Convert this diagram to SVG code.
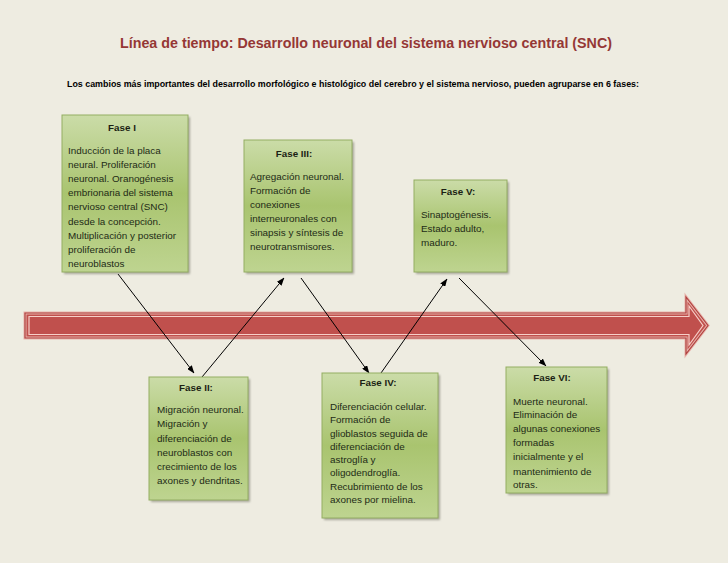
<svg xmlns="http://www.w3.org/2000/svg" width="728" height="563" viewBox="0 0 728 563">
<defs>
<linearGradient id="g" x1="0" y1="0" x2="0" y2="1">
<stop offset="0" stop-color="#CBDCA8"/>
<stop offset="0.5" stop-color="#A9C46F"/>
<stop offset="1" stop-color="#BED490"/>
</linearGradient>
<filter id="sh" x="-10%" y="-10%" width="130%" height="130%">
<feGaussianBlur stdDeviation="1.2"/>
</filter>
<marker id="ah" markerWidth="8" markerHeight="6" refX="7.5" refY="3" orient="auto" markerUnits="userSpaceOnUse">
<path d="M0,0 L8,3 L0,6 z" fill="#000"/>
</marker>
<style>
.shadow{fill:#6e6e5e;opacity:0.55;filter:url(#sh)}
.box{fill:url(#g);stroke:#93AD62;stroke-width:1}
.h{font-family:"Liberation Sans",Arial,sans-serif;font-weight:bold;font-size:9.8px;fill:#1b1f14;text-anchor:middle}
.t{font-family:"Liberation Sans",Arial,sans-serif;font-size:9.9px;fill:#222b16}
.c{fill:none;stroke:#000;stroke-width:1;marker-end:url(#ah)}
</style>
</defs>
<rect width="728" height="563" fill="#EEECE1"/>
<text x="366" y="48" font-family="Liberation Sans, Arial, sans-serif" font-size="14.5" font-weight="bold" fill="#953735" text-anchor="middle" textLength="492" lengthAdjust="spacingAndGlyphs">Línea de tiempo: Desarrollo neuronal del sistema nervioso central (SNC)</text>
<text x="67" y="87" font-family="Liberation Sans, Arial, sans-serif" font-size="9.2" font-weight="bold" fill="#000" textLength="572" lengthAdjust="spacingAndGlyphs">Los cambios más importantes del desarrollo morfológico e histológico del cerebro  y el sistema nervioso, pueden agruparse en 6 fases:</text>

<g id="timeline">
<polygon points="25,313 686,313 686,297 708,325.5 686,354 686,338 25,338" fill="#C0504D" stroke="#E8B4AC" stroke-width="3" stroke-linejoin="miter"/>
<polygon points="25,313 686,313 686,297 708,325.5 686,354 686,338 25,338" fill="none" stroke="#B0413F" stroke-width="1.2"/>
<polygon points="29,316.5 689,316.5 689,306 703,325.5 689,345 689,334.5 29,334.5" fill="none" stroke="#F6CFC8" stroke-width="1.2"/>
</g>

<g id="connectors">
<line class="c" x1="118" y1="274" x2="194" y2="373"/>
<line class="c" x1="202" y1="377" x2="284" y2="278"/>
<line class="c" x1="301" y1="278" x2="369" y2="373"/>
<line class="c" x1="381" y1="373" x2="447" y2="279"/>
<line class="c" x1="459" y1="278" x2="546" y2="366"/>
</g>

<g id="fase1">
<rect class="shadow" x="64" y="117" width="126" height="157"/>
<rect class="box" x="62" y="115" width="126" height="157"/>
<text class="h" x="122" y="131">Fase I</text>
<text class="t" x="68" y="154">Inducción de la placa</text>
<text class="t" x="68" y="168">neural. Proliferación</text>
<text class="t" x="68" y="182">neuronal. Oranogénesis</text>
<text class="t" x="68" y="196">embrionaria del sistema</text>
<text class="t" x="68" y="210">nervioso central (SNC)</text>
<text class="t" x="68" y="225">desde la concepción.</text>
<text class="t" x="68" y="239">Multiplicación y posterior</text>
<text class="t" x="68" y="253">proliferación de</text>
<text class="t" x="68" y="267">neuroblastos</text>
</g>

<g id="fase3">
<rect class="shadow" x="246" y="142" width="108" height="132"/>
<rect class="box" x="244" y="140" width="108" height="132"/>
<text class="h" x="294" y="157">Fase III:</text>
<text class="t" x="250" y="180">Agregación neuronal.</text>
<text class="t" x="250" y="194">Formación de</text>
<text class="t" x="250" y="208">conexiones</text>
<text class="t" x="250" y="222">interneuronales con</text>
<text class="t" x="250" y="236">sinapsis y síntesis de</text>
<text class="t" x="250" y="250">neurotransmisores.</text>
</g>

<g id="fase5">
<rect class="shadow" x="416" y="182" width="93" height="92"/>
<rect class="box" x="414" y="180" width="93" height="92"/>
<text class="h" x="458" y="195">Fase V:</text>
<text class="t" x="421" y="218">Sinaptogénesis.</text>
<text class="t" x="421" y="232">Estado adulto,</text>
<text class="t" x="421" y="246">maduro.</text>
</g>

<g id="fase2">
<rect class="shadow" x="151" y="379" width="99" height="123"/>
<rect class="box" x="149" y="377" width="99" height="123"/>
<text class="h" x="196" y="391">Fase II:</text>
<text class="t" x="157" y="413">Migración neuronal.</text>
<text class="t" x="157" y="427">Migración y</text>
<text class="t" x="157" y="442">diferenciación de</text>
<text class="t" x="157" y="456">neuroblastos con</text>
<text class="t" x="157" y="470">crecimiento de los</text>
<text class="t" x="157" y="484">axones y dendritas.</text>
</g>

<g id="fase4">
<rect class="shadow" x="324" y="375" width="116" height="145"/>
<rect class="box" x="322" y="373" width="116" height="145"/>
<text class="h" x="378" y="386">Fase IV:</text>
<text class="t" x="330" y="410">Diferenciación celular.</text>
<text class="t" x="330" y="423">Formación de</text>
<text class="t" x="330" y="437">glioblastos seguida de</text>
<text class="t" x="330" y="450">diferenciación de</text>
<text class="t" x="330" y="463">astroglía y</text>
<text class="t" x="330" y="476">oligodendroglía.</text>
<text class="t" x="330" y="490">Recubrimiento de los</text>
<text class="t" x="330" y="503">axones por mielina.</text>
</g>

<g id="fase6">
<rect class="shadow" x="508" y="369" width="101" height="126"/>
<rect class="box" x="506" y="367" width="101" height="126"/>
<text class="h" x="552" y="381">Fase VI:</text>
<text class="t" x="513" y="405">Muerte neuronal.</text>
<text class="t" x="513" y="418">Eliminación de</text>
<text class="t" x="513" y="432">algunas conexiones</text>
<text class="t" x="513" y="446">formadas</text>
<text class="t" x="513" y="460">inicialmente y el</text>
<text class="t" x="513" y="475">mantenimiento de</text>
<text class="t" x="513" y="488">otras.</text>
</g>
</svg>
